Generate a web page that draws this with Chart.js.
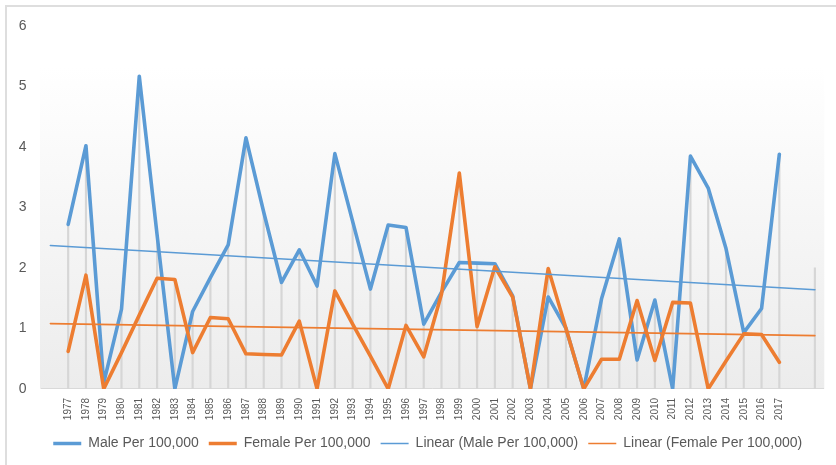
<!DOCTYPE html>
<html>
<head>
<meta charset="utf-8">
<script src="https://cdn.jsdelivr.net/npm/chart.js@4/dist/chart.umd.min.js"></script>
<style>
  html, body { margin: 0; padding: 0; background: #ffffff; overflow: hidden; }
  #wrap { position: relative; width: 836px; height: 465px; }
  #frame { position: absolute; left: 5px; top: 5px; width: 900px; height: 500px;
           border: 2px solid #dedede; pointer-events: none; box-sizing: border-box; }
  canvas { position: absolute; left: 0; top: 0; }
</style>
</head>
<body>
<div id="wrap">
  <canvas id="c" width="836" height="465"></canvas>
  <div id="frame"></div>
</div>
<script>
// ---- data ----
const years = ['1977','1978','1979','1980','1981','1982','1983','1984','1985','1986',
  '1987','1988','1989','1990','1991','1992','1993','1994','1995','1996','1997','1998',
  '1999','2000','2001','2002','2003','2004','2005','2006','2007','2008','2009','2010',
  '2011','2012','2013','2014','2015','2016','2017'];
const male = [2.72, 4.02, 0.1, 1.32, 5.17, 2.55, 0, 1.28, 1.84, 2.38,
  4.15, 2.92, 1.76, 2.3, 1.7, 3.89, 2.77, 1.65, 2.71, 2.67, 1.07, 1.6,
  2.09, 2.08, 2.07, 1.54, 0, 1.52, 1.0, 0, 1.49, 2.48, 0.48, 1.47,
  0, 3.85, 3.32, 2.32, 0.93, 1.33, 3.88];
const female = [0.62, 1.88, 0, 0.6, 1.22, 1.83, 1.81, 0.6, 1.18, 1.16,
  0.58, 0.57, 0.56, 1.12, 0, 1.62, 1.07, 0.54, 0, 1.05, 0.53, 1.57,
  3.57, 1.03, 2.02, 1.52, 0, 1.99, 1.0, 0, 0.49, 0.49, 1.46, 0.47,
  1.43, 1.42, 0, 0.46, 0.91, 0.9, 0.44];
// trendlines: value one period before the first year and two periods after the last
const trendMale = [2.37, 1.64];
const trendFemale = [1.08, 0.88];
const trendYears = ['1976', '2019'];
const extraYears = ['2018', '2019'];
const dropLine2019 = 2.0;
const yMin = 0, yMax = 6, yStep = 1;

const seriesNames = ['Male Per 100,000', 'Female Per 100,000',
  'Linear (Male Per 100,000)', 'Linear (Female Per 100,000)'];
const BLUE = '#5B9BD5', ORANGE = '#ED7D31', TEXT = '#595959';

// ---- build chart structures ----
const axisLabels = [trendYears[0], ...years, ...extraYears];
const pad = arr => [null, ...arr, ...extraYears.map(() => null)];
const drops = [null, ...years.map((y, i) => [0, Math.max(male[i], female[i])]), null, [0, dropLine2019]];
function trendData(t) {
  const d = axisLabels.map(() => null);
  d[axisLabels.indexOf(trendYears[0])] = t[0];
  d[axisLabels.indexOf(trendYears[1])] = t[1];
  return d;
}

const bgPlugin = {
  id: 'bg',
  afterLayout(chart) {
    // centre the legend under the plot area like the original
    if (chart.legend) { chart.legend.left = 29; }
  },
  beforeDraw(chart) {
    const { ctx, chartArea, scales } = chart;
    const top = scales.y.getPixelForValue(5.32);
    const g = ctx.createLinearGradient(0, top, 0, chartArea.bottom);
    g.addColorStop(0, '#ffffff');
    g.addColorStop(1, '#ececec');
    ctx.save();
    ctx.fillStyle = g;
    ctx.fillRect(chartArea.left - 1.5, top, chartArea.right - chartArea.left + 2, chartArea.bottom - top);
    ctx.restore();
  }
};

const lineCommon = { pointRadius: 0, pointHoverRadius: 0, tension: 0,
  borderCapStyle: 'round', borderJoinStyle: 'round', fill: false };

new Chart(document.getElementById('c'), {
  data: {
    labels: axisLabels,
    datasets: [
      Object.assign({ type: 'line', label: seriesNames[0], data: pad(male),
        borderColor: BLUE, backgroundColor: BLUE, borderWidth: 3.6, order: 4 }, lineCommon),
      Object.assign({ type: 'line', label: seriesNames[1], data: pad(female),
        borderColor: ORANGE, backgroundColor: ORANGE, borderWidth: 3.6, order: 3 }, lineCommon),
      Object.assign({ type: 'line', label: seriesNames[2], data: trendData(trendMale),
        borderColor: BLUE, backgroundColor: BLUE, borderWidth: 1.6, spanGaps: true, order: 2 }, lineCommon),
      Object.assign({ type: 'line', label: seriesNames[3], data: trendData(trendFemale),
        borderColor: ORANGE, backgroundColor: ORANGE, borderWidth: 1.6, spanGaps: true, order: 1 }, lineCommon),
      { type: 'bar', label: 'drop', data: drops, backgroundColor: '#d6d6d6',
        barThickness: 1.5, order: 5 }
    ]
  },
  options: {
    responsive: false,
    animation: false,
    devicePixelRatio: 1,
    layout: { padding: { top: 26, left: 0, right: 9.5, bottom: 4.5 } },
    scales: {
      x: {
        type: 'category',
        offset: true,
        grid: { display: false, drawTicks: false },
        border: { display: true, color: '#d9d9d9', width: 1 },
        ticks: {
          autoSkip: false, maxRotation: 90, minRotation: 90, padding: 9,
          color: TEXT, font: { family: 'Liberation Sans', size: 10 },
          callback: function (v) { const l = this.getLabelForValue(v); return years.includes(l) ? l : ''; }
        },
        afterFit: s => { s.height = 37.6; }
      },
      y: {
        type: 'linear',
        min: yMin, max: yMax,
        grid: { display: false, drawTicks: false },
        border: { display: false },
        ticks: { stepSize: yStep, autoSkip: false, padding: 15, color: TEXT,
                 font: { family: 'Liberation Sans', size: 14 } },
        afterFit: s => { s.width = 41.5; }
      }
    },
    plugins: {
      tooltip: { enabled: false },
      legend: {
        position: 'bottom',
        align: 'center',
        labels: {
          usePointStyle: true,
          pointStyleWidth: 28,
          padding: 10,
          color: TEXT,
          font: { family: 'Liberation Sans', size: 14 },
          generateLabels: chart => chart.data.datasets.slice(0, 4).map((ds, i) => ({
            text: ds.label, datasetIndex: i, pointStyle: 'line',
            strokeStyle: ds.borderColor, fillStyle: ds.borderColor,
            lineWidth: i < 2 ? 3.5 : 1.6, fontColor: TEXT, hidden: false
          }))
        }
      }
    }
  },
  plugins: [bgPlugin]
});
</script>
</body>
</html>
